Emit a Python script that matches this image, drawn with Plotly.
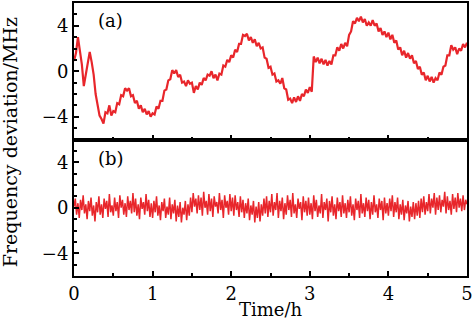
import numpy as np
import plotly.graph_objects as go

# Panel (a): frequency deviation (MHz), sampled every 0.025 h from 0 to 5 h
freq_a = [
    0.9, 1.6, 3.0, 1.9, 0.6, -1.3, -0.2, 0.5, 1.7, 0.8,
    -0.3, -2.0, -2.8, -3.9, -4.2, -4.6, -3.6, -3.7, -3.0, -3.9,
    -3.5, -3.6, -2.8, -2.9, -2.1, -2.2, -1.5, -1.7, -1.5, -2.2,
    -2.1, -2.8, -2.6, -3.3, -3.0, -3.6, -3.3, -3.8, -3.5, -4.0,
    -3.7, -3.8, -3.1, -3.3, -2.6, -2.6, -1.7, -1.6, -0.8, -0.7,
    0.1, -0.2, 0.1, -0.5, -0.3, -1.0, -0.9, -1.3, -0.8, -1.1,
    -1.0, -1.9, -1.3, -1.6, -1.0, -1.2, -0.6, -0.8, -0.3, -0.4,
    0.0, -0.6, -0.3, -0.8, -0.2, -0.3, 0.5, 0.4, 1.0, 0.8,
    1.4, 1.2, 1.9, 1.7, 2.4, 2.4, 3.2, 3.1, 3.3, 2.7,
    3.0, 2.5, 2.8, 2.2, 2.5, 2.0, 2.1, 1.2, 1.1, 0.3,
    0.4, -0.3, -0.2, -0.9, -0.8, -1.1, -0.6, -1.5, -1.6, -2.5,
    -2.4, -2.8, -2.3, -2.7, -2.2, -2.6, -2.0, -2.2, -1.6, -1.9,
    -1.4, -1.8, 1.3, 0.8, 1.2, 0.7, 1.1, 0.6, 1.0, 0.5,
    0.9, 0.6, 1.4, 1.4, 2.1, 1.8, 2.4, 2.0, 2.5, 2.2,
    3.2, 3.5, 4.4, 4.2, 4.7, 4.4, 4.8, 4.3, 4.6, 4.0,
    4.3, 4.0, 4.5, 4.0, 4.2, 3.5, 3.8, 3.2, 3.5, 3.0,
    3.4, 2.8, 3.2, 2.5, 2.7, 1.9, 2.1, 1.4, 1.8, 1.2,
    1.6, 1.1, 1.4, 0.7, 0.9, 0.2, 0.4, -0.3, -0.1, -0.8,
    -0.4, -0.9, -0.5, -1.0, -0.6, -0.8, -0.1, -0.3, 0.4, 0.5,
    1.4, 1.4, 2.3, 1.9, 2.1, 1.5, 2.0, 1.8, 2.4, 2.1,
    2.5,
]

# Panel (b): stabilised frequency deviation (MHz), 0 to 5 h
freq_b = [
    0.1, 0.8, -0.6, 0.4, -0.9, 0.7, -0.2, 1.1, -0.5, 0.3,
    -1.0, 0.6, -0.3, 0.9, -0.7, 0.2, -1.2, 0.5, -0.4, 1.0,
    -0.6, 0.3, -0.9, 0.8, -0.1, 0.6, -0.8, 1.2, -0.4, 0.2,
    -0.7, 0.9, -0.3, 0.5, -0.9, 1.1, 0.0, 0.7, -0.6, 0.4,
    -0.8, 1.0, -0.2, 0.6, -0.5, 1.3, -0.4, 0.8, -0.7, 0.3,
    -1.0, 0.9, -0.1, 0.5, -0.6, 1.2, -0.3, 0.7, -0.8, 0.4,
    -0.9, 0.6, -0.4, 1.0, -0.7, 0.2, -1.1, 0.5, -0.3, 0.8,
    -0.9, 0.1, -0.6, 0.9, -1.0, 0.3, -0.5, 0.7, -1.2, 0.2,
    -0.8, 0.5, -1.3, 0.0, -0.6, 0.6, -1.1, 0.3, -0.7, 0.9,
    -0.4, 1.3, 0.1, 0.8, -0.5, 1.1, -0.2, 0.9, -0.7, 1.4,
    0.0, 0.6, -0.6, 1.2, -0.3, 0.8, -0.8, 1.0, 0.1, 0.5,
    -0.5, 1.3, -0.2, 0.7, -0.9, 1.1, 0.0, 0.6, -0.6, 1.2,
    -0.3, 0.9, -0.7, 1.1, -0.2, 0.5, -0.8, 1.0, -0.4, 0.7,
    -0.9, 0.4, -0.5, 0.8, -1.1, 0.2, -0.6, 0.6, -1.3, 0.1,
    -0.9, 0.5, -1.2, 0.3, -0.7, 0.8, -0.5, 1.0, -0.8, 0.6,
    -0.4, 1.2, -0.7, 0.5, -0.2, 1.3, -0.9, 0.6, -0.3, 0.9,
    -1.0, 0.4, -0.6, 1.1, -0.2, 0.7, -0.8, 1.3, -0.5, 0.3,
    -0.9, 0.8, -0.1, 0.5, -1.1, 1.0, -0.4, 0.6, -0.7, 0.9,
    -0.6, 0.4, -1.0, 1.1, -0.3, 0.7, -0.8, 0.2, -0.5, 1.2,
    -0.9, 0.5, -0.2, 0.8, -1.2, 0.6, -0.4, 1.0, -0.7, 0.3,
    -1.0, 0.9, -0.3, 0.5, -0.8, 1.1, -0.5, 0.4, -0.9, 0.7,
    -0.4, 1.0, -0.7, 0.3, -1.1, 0.8, -0.2, 0.6, -0.9, 1.2,
    -0.5, 0.4, -0.8, 0.9, -0.3, 0.7, -1.0, 0.5, -0.6, 1.1,
    -0.4, 0.3, -0.9, 0.8, -0.2, 0.6, -1.1, 0.9, -0.5, 0.4,
    -0.7, 0.8, -0.3, 1.1, -0.8, 0.5, -0.4, 0.9, -1.0, 0.3,
    -0.6, 0.7, -1.1, 0.2, -0.5, 0.6, -1.2, 0.1, -0.8, 0.5,
    -1.0, 0.4, -0.7, 0.6, -0.9, 0.8, -0.4, 1.0, -0.6, 0.5,
    -0.3, 1.2, -0.5, 0.8, 0.0, 1.3, -0.6, 0.9, -0.2, 1.1,
    -0.4, 0.7, 0.1, 1.4, -0.5, 1.0, -0.2, 0.6, -0.6, 1.2,
    -0.1, 0.9, -0.4, 1.3, 0.0, 0.8, -0.3, 1.1, -0.2, 0.7,
    0.3,
]

time_a = np.linspace(0, 5, len(freq_a))
time_b = np.linspace(0, 5, len(freq_b))

x_ticks = [0, 1, 2, 3, 4, 5]
y_ticks = [-4, 0, 4]
panel_labels = ["(a)", "(b)"]

RED = "#e8262b"
FONT = "'DejaVu Serif', serif"

fig = go.Figure()
fig.add_trace(go.Scatter(x=time_a, y=freq_a, mode="lines",
                         line=dict(color=RED, width=2.2), xaxis="x", yaxis="y",
                         showlegend=False, hoverinfo="skip"))
fig.add_trace(go.Scatter(x=time_b, y=freq_b, mode="lines",
                         line=dict(color=RED, width=1.5), xaxis="x2", yaxis="y2",
                         showlegend=False, hoverinfo="skip"))

axis_common = dict(showline=True, linecolor="black", linewidth=2, mirror=True,
                   ticks="inside", tickcolor="black", tickwidth=1.5, ticklen=5,
                   showgrid=False, zeroline=False,
                   tickfont=dict(family=FONT, size=18, color="black"))

xcommon = dict(axis_common, range=[0, 5], tickvals=x_ticks,
               minor=dict(dtick=0.5, tick0=0, ticks="inside", ticklen=3,
                          tickcolor="black", tickwidth=1.5, showgrid=False))
ycommon = dict(axis_common, range=[-6, 6], tickvals=y_ticks,
               ticktext=["\u22124", "0", "4"],
               minor=dict(dtick=1, tick0=0, ticks="inside", ticklen=3,
                          tickcolor="black", tickwidth=1.5, showgrid=False))

fig.update_layout(
    width=474, height=322,
    margin=dict(l=74, r=6, t=1, b=46),
    paper_bgcolor="white", plot_bgcolor="white",
    xaxis=dict(xcommon, anchor="y", showticklabels=False),
    yaxis=dict(ycommon, domain=[0.5, 1], anchor="x"),
    xaxis2=dict(xcommon, anchor="y2",
                title=dict(text="Time/h", font=dict(family=FONT, size=18, color="black"),
                           standoff=1)),
    yaxis2=dict(ycommon, domain=[0, 0.5], anchor="x2"),
    annotations=[
        dict(text="Frequency deviation/MHz", xref="paper", yref="paper",
             x=-0.163, y=0.49, xanchor="center", yanchor="middle", textangle=-90,
             showarrow=False, font=dict(family=FONT, size=19, color="black")),
        dict(text=panel_labels[0], xref="x", yref="y", x=0.46, y=4.45,
             xanchor="center", yanchor="middle", showarrow=False,
             font=dict(family=FONT, size=18, color="black")),
        dict(text=panel_labels[1], xref="x2", yref="y2", x=0.47, y=4.35,
             xanchor="center", yanchor="middle", showarrow=False,
             font=dict(family=FONT, size=18, color="black")),
    ],
)

fig.write_html("out.html")
